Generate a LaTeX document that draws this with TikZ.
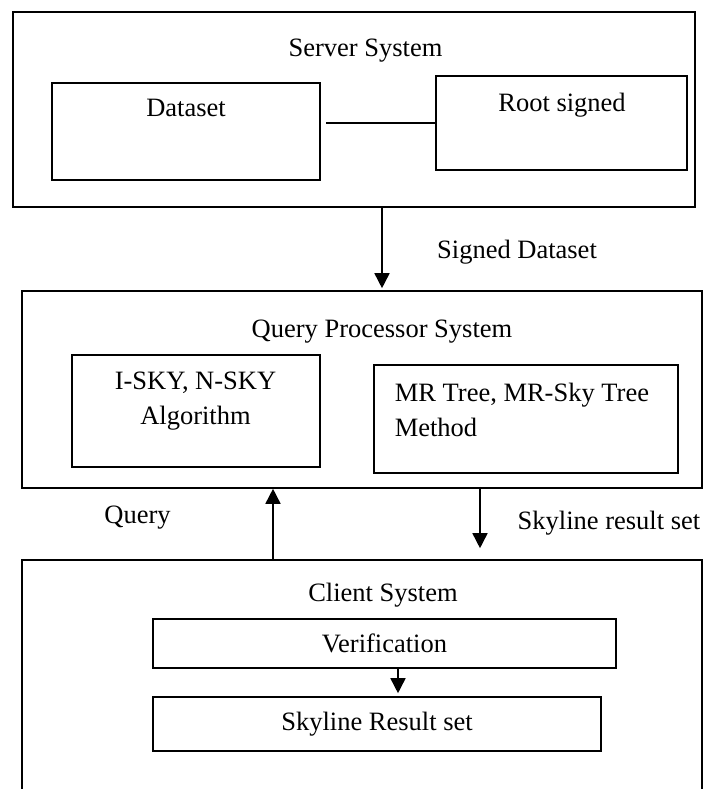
\documentclass[tikz,border=0pt]{standalone}
\usepackage{fontspec}
\setmainfont{Liberation Serif}
\usetikzlibrary{arrows.meta,positioning}
\tikzset{
  box/.style={draw, rectangle, inner sep=0pt},
  lbl/.style={inner sep=0pt, font=\fontsize{26.5}{35}\selectfont},
  >={Triangle[width=15pt,length=15pt]},
}

\begin{document}
\begin{tikzpicture}[
  x=1pt, y=-1pt,
  line width=1.6pt,
  every node/.append style={font=\fontsize{26.5}{35}\selectfont},
]
\useasboundingbox (0,0) rectangle (704,789);

\node[box, minimum width=682pt, minimum height=195pt] (server) at (354,109.5) {};
\node[box, minimum width=268pt, minimum height=97pt] (dataset) at (186,131.5) {};
\node[box, minimum width=251pt, minimum height=94pt] (root) at (561.5,123) {};
\node[lbl, anchor=base] (servertitle) at (365.5,57) {Server System};
\node[lbl, anchor=base] (datasetlbl) at (186,117) {Dataset};
\node[lbl, anchor=base] (rootlbl) at (562,112) {Root signed};

\node[box, minimum width=680pt, minimum height=197pt] (qp) at (362,389.5) {};
\node[box, minimum width=248pt, minimum height=112pt] (isky) at (196,411) {};
\node[box, minimum width=304pt, minimum height=108pt] (mr) at (526,419) {};
\node[lbl, anchor=base] (qptitle) at (382,337) {Query Processor System};
\node[lbl, anchor=north, align=center] (iskylbl) at (195.5,371.5) {I-SKY, N-SKY\\Algorithm};
\node[lbl, anchor=north west, align=left] (mrlbl) at (394,382) {MR Tree, MR-Sky Tree\\Method};

\node[box, minimum width=680pt, minimum height=270pt] (client) at (362,695) {};
\node[lbl, anchor=base] (clienttitle) at (383,601) {Client System};
\node[box, minimum width=463pt, minimum height=49pt] (verif) at (384.5,643.5) {Verification};
\node[box, minimum width=448pt, minimum height=54pt] (result) at (377,724) {Skyline Result set};

\node[lbl, anchor=base] (signedlbl) at (517,258) {Signed Dataset};
\node[lbl, anchor=base] (querylbl) at (137.6,523) {Query};
\node[lbl, anchor=base] (skylbl) at (609,529) {Skyline result set};

\coordinate (qin) at (273,0);
\coordinate (rout) at (480,0);
\coordinate (vdown) at (398,0);

\draw[shorten >=5pt] (root.west) -- (root.west -| dataset.east);
\draw[->, shorten >=2pt] (server.south -| qptitle) -- (qp.north -| qptitle);
\draw[->] (client.north -| qin) -- (qp.south -| qin);
\draw[->, shorten >=11pt] ([yshift=2pt]qp.south -| rout) -- (client.north -| rout);
\draw[->, shorten >=3pt] (verif.south -| vdown) -- (result.north -| vdown);
\end{tikzpicture}
\end{document}
